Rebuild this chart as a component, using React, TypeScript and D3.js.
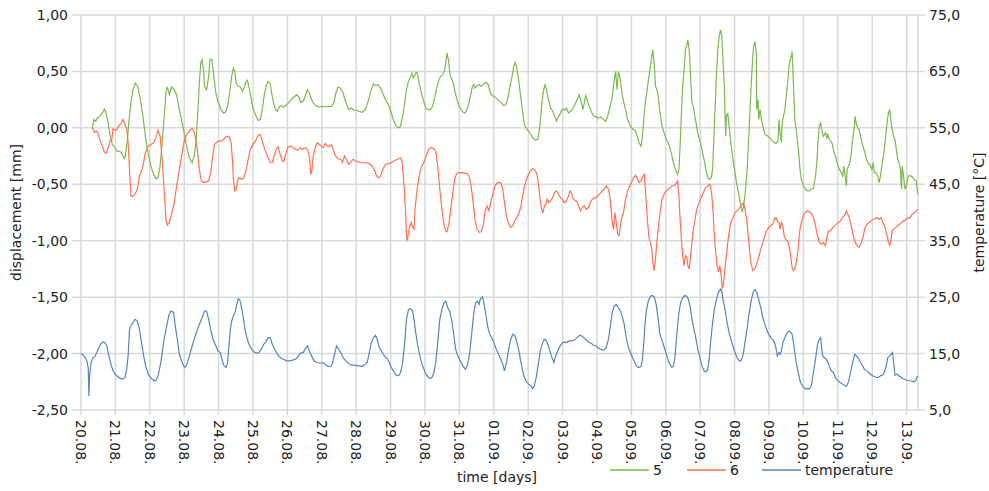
import React from "react";
import * as d3 from "d3";

// day offset from 20.08. (0) , displacement [mm]
const series5: [number, number][] = [
  [0.33,0],[0.38,0.074],[0.43,0.059],[0.47,0.088],[0.52,0.097],[0.56,0.109],[0.62,0.132],[0.68,0.168],[0.73,0.132],[0.79,0.044],[0.85,-0.074],[0.91,-0.147],[0.99,-0.176],[1.04,-0.206],[1.10,-0.206],[1.16,-0.215],[1.20,-0.235],[1.26,-0.274],[1.29,-0.25],[1.35,-0.103],[1.39,0.044],[1.45,0.221],[1.51,0.338],[1.58,0.397],[1.64,0.374],[1.72,0.265],[1.80,0.103],[1.87,-0.074],[1.95,-0.221],[2.03,-0.338],[2.11,-0.412],[2.18,-0.45],[2.24,-0.441],[2.30,-0.338],[2.36,-0.132],[2.42,0.103],[2.47,0.309],[2.51,0.362],[2.57,0.294],[2.63,0.362],[2.71,0.338],[2.78,0.294],[2.84,0.191],[2.92,0.074],[3.00,-0.044],[3.07,-0.162],[3.15,-0.265],[3.23,-0.309],[3.29,-0.25],[3.34,-0.132],[3.40,0.162],[3.44,0.397],[3.48,0.574],[3.52,0.603],[3.56,0.515],[3.59,0.368],[3.65,0.338],[3.71,0.456],[3.75,0.609],[3.81,0.603],[3.86,0.456],[3.92,0.309],[3.98,0.235],
  [4.07,0.162],[4.14,0.132],[4.20,0.138],[4.26,0.191],[4.32,0.309],[4.38,0.456],[4.43,0.529],[4.47,0.5],[4.51,0.397],[4.57,0.368],[4.63,0.362],[4.69,0.324],[4.74,0.353],[4.80,0.412],[4.84,0.421],[4.90,0.338],[4.96,0.235],[5.01,0.162],[5.09,0.103],[5.15,0.065],[5.21,0.074],[5.27,0.162],[5.32,0.279],[5.38,0.368],[5.44,0.412],[5.50,0.391],[5.54,0.309],[5.59,0.235],[5.65,0.162],[5.71,0.147],[5.77,0.191],[5.83,0.197],[5.88,0.185],[5.96,0.197],[6.04,0.226],[6.12,0.256],[6.19,0.274],[6.27,0.294],[6.33,0.274],[6.39,0.226],[6.46,0.235],[6.52,0.285],[6.58,0.338],[6.64,0.309],[6.70,0.25],[6.77,0.215],[6.85,0.191],[6.93,0.185],[7.00,0.191],[7.08,0.185],[7.18,0.191],[7.28,0.191],[7.35,0.221],[7.41,0.309],[7.47,0.362],[7.53,0.353],[7.60,0.324],[7.66,0.265],[7.72,0.206],[7.78,0.162],[7.86,0.176],[7.93,0.156],[8.01,0.156],
  [8.07,0.147],[8.17,0.138],[8.27,0.162],[8.36,0.25],[8.44,0.338],[8.50,0.391],[8.56,0.374],[8.63,0.382],[8.71,0.353],[8.77,0.309],[8.83,0.265],[8.90,0.221],[8.96,0.191],[9.02,0.132],[9.08,0.074],[9.14,0.029],[9.19,0.009],[9.25,0],[9.29,0.015],[9.35,0.103],[9.41,0.221],[9.46,0.338],[9.52,0.412],[9.58,0.456],[9.62,0.485],[9.66,0.441],[9.70,0.462],[9.73,0.485],[9.77,0.491],[9.81,0.426],[9.87,0.338],[9.93,0.265],[9.99,0.206],[10.04,0.168],[10.10,0.162],[10.16,0.162],[10.22,0.191],[10.28,0.265],[10.33,0.338],[10.39,0.412],[10.45,0.456],[10.51,0.471],[10.57,0.515],[10.60,0.574],[10.64,0.662],[10.68,0.603],[10.72,0.485],[10.76,0.441],[10.82,0.397],[10.87,0.324],[10.93,0.25],[10.99,0.191],[11.05,0.162],[11.11,0.138],[11.16,0.132],[11.22,0.162],[11.28,0.221],[11.34,0.309],[11.38,0.368],[11.42,0.382],[11.45,0.353],[11.51,0.374],[11.57,0.382],[11.63,0.368],[11.71,0.391],[11.78,0.403],[11.84,0.382],[11.90,0.309],[11.96,0.285],[12.03,0.274],[12.11,0.25],
  [12.22,0.221],[12.29,0.197],[12.35,0.206],[12.41,0.265],[12.47,0.368],[12.53,0.456],[12.58,0.544],[12.62,0.579],[12.66,0.544],[12.72,0.426],[12.78,0.279],[12.84,0.132],[12.89,0.029],[12.97,-0.015],[13.05,-0.044],[13.13,-0.088],[13.20,-0.109],[13.28,-0.103],[13.34,0.015],[13.38,0.162],[13.42,0.279],[13.45,0.338],[13.49,0.382],[13.53,0.338],[13.59,0.25],[13.65,0.176],[13.71,0.147],[13.76,0.109],[13.82,0.059],[13.86,0.088],[13.92,0.118],[13.98,0.162],[14.03,0.168],[14.07,0.156],[14.11,0.176],[14.17,0.132],[14.23,0.147],[14.29,0.168],[14.34,0.191],[14.40,0.235],[14.44,0.265],[14.48,0.294],[14.52,0.25],[14.56,0.206],[14.59,0.162],[14.63,0.221],[14.67,0.285],[14.71,0.25],[14.75,0.206],[14.81,0.162],[14.86,0.126],[14.92,0.103],[14.98,0.097],[15.04,0.088],[15.10,0.097],[15.15,0.085],[15.21,0.068],[15.25,0.056],[15.31,0.103],[15.37,0.176],[15.43,0.25],[15.46,0.324],[15.50,0.426],[15.54,0.5],[15.58,0.338],[15.62,0.5],[15.66,0.456],[15.70,0.368],[15.73,0.294],[15.77,0.235],[15.83,0.162],[15.89,0.074],[15.95,0.029],[16.00,0],[16.06,-0.015],[16.12,-0.029],[16.18,-0.088],
  [16.22,-0.132],[16.28,-0.162],[16.32,-0.074],[16.36,0.074],[16.39,0.191],[16.43,0.279],[16.47,0.368],[16.51,0.456],[16.55,0.544],[16.59,0.632],[16.62,0.691],[16.66,0.574],[16.70,0.368],[16.74,0.338],[16.78,0.279],[16.82,0.162],[16.86,0.074],[16.89,0.015],[16.95,-0.044],[17.01,-0.103],[17.07,-0.132],[17.13,-0.191],[17.18,-0.25],[17.22,-0.309],[17.28,-0.368],[17.34,-0.412],[17.38,-0.368],[17.41,-0.191],[17.45,0.103],[17.49,0.368],[17.53,0.515],[17.57,0.691],[17.61,0.735],[17.64,0.779],[17.68,0.691],[17.72,0.456],[17.76,0.221],[17.80,0.191],[17.84,0.103],[17.88,0.044],[17.91,-0.015],[17.95,-0.074],[18.01,-0.132],[18.07,-0.221],[18.13,-0.309],[18.18,-0.397],[18.22,-0.441],[18.26,-0.456],[18.32,-0.441],[18.36,-0.368],[18.39,-0.132],[18.43,0.162],[18.47,0.456],[18.51,0.691],[18.55,0.809],[18.59,0.868],[18.63,0.809],[18.66,0.603],[18.70,0.368],[18.74,-0.074],[18.76,0.103],[18.80,0.132],[18.84,0.015],[18.89,-0.132],[18.95,-0.279],[19.01,-0.397],[19.07,-0.515],[19.13,-0.603],[19.18,-0.691],[19.22,-0.75],[19.26,-0.691],[19.30,-0.603],[19.36,-0.397],[19.41,-0.074],[19.47,0.309],[19.51,0.544],[19.55,0.721],[19.59,0.765],[19.63,0.662],[19.64,0.162],[19.68,0.25],[19.70,0.074],[19.74,0.162],[19.78,0.074],[19.84,-0.015],[19.89,-0.059],[19.97,-0.074],[20.05,-0.097],[20.13,-0.126],[20.20,-0.138],[20.26,-0.118],
  [20.29,0.074],[20.32,-0.044],[20.36,-0.132],[20.38,0.044],[20.42,0.103],[20.46,0.162],[20.50,0.279],[20.54,0.397],[20.58,0.544],[20.61,0.603],[20.65,0.632],[20.67,0.676],[20.69,0.544],[20.71,0.368],[20.75,0.074],[20.79,-0.015],[20.83,-0.132],[20.87,-0.25],[20.90,-0.368],[20.94,-0.456],[21.00,-0.515],[21.06,-0.544],[21.12,-0.559],[21.17,-0.559],[21.23,-0.544],[21.29,-0.538],[21.35,-0.426],[21.39,-0.309],[21.42,-0.132],[21.46,0.015],[21.50,0.044],[21.54,-0.029],[21.58,-0.074],[21.64,-0.044],[21.68,-0.088],[21.71,-0.059],[21.75,-0.103],[21.79,-0.118],[21.83,-0.132],[21.87,-0.191],[21.93,-0.25],[21.98,-0.309],[22.04,-0.368],[22.10,-0.397],[22.14,-0.426],[22.18,-0.338],[22.22,-0.456],[22.25,-0.515],[22.27,-0.368],[22.31,-0.338],[22.35,-0.309],[22.39,-0.221],[22.43,-0.103],[22.47,-0.015],[22.50,0.103],[22.54,0.029],[22.58,0],[22.62,-0.015],[22.66,-0.074],[22.70,-0.132],[22.76,-0.191],[22.81,-0.25],[22.87,-0.309],[22.93,-0.324],[22.99,-0.368],[23.03,-0.309],[23.06,-0.397],[23.10,-0.397],[23.16,-0.426],[23.20,-0.485],[23.24,-0.426],[23.28,-0.338],[23.31,-0.279],[23.35,-0.191],[23.39,-0.074],[23.43,0.044],[23.47,0.132],[23.51,0.162],[23.55,0.044],[23.58,-0.015],[23.62,-0.074],[23.66,-0.103],[23.70,-0.191],[23.74,-0.279],[23.78,-0.309],[23.82,-0.368],[23.85,-0.544],[23.87,-0.338],[23.91,-0.426],[23.95,-0.544],[23.99,-0.515],[24.05,-0.426],[24.11,-0.426],[24.16,-0.432],[24.22,-0.456],[24.28,-0.471],[24.32,-0.588]
];

const series6: [number, number][] = [
  [0.33,0],[0.39,-0.038],[0.45,-0.029],[0.50,-0.05],[0.56,-0.118],[0.62,-0.162],[0.68,-0.215],[0.73,-0.226],[0.79,-0.176],[0.85,-0.109],[0.89,-0.118],[0.93,-0.009],[0.99,-0.021],[1.04,-0.015],[1.10,0.021],[1.16,0.038],[1.22,0.074],[1.28,0.029],[1.33,-0.015],[1.37,-0.132],[1.41,-0.368],[1.45,-0.603],[1.51,-0.609],[1.57,-0.588],[1.64,-0.544],[1.70,-0.426],[1.76,-0.382],[1.82,-0.309],[1.87,-0.221],[1.95,-0.162],[2.03,-0.147],[2.11,-0.132],[2.18,-0.088],[2.24,-0.021],[2.30,-0.074],[2.36,-0.279],[2.42,-0.574],[2.47,-0.809],[2.51,-0.862],[2.57,-0.838],[2.63,-0.765],[2.71,-0.662],[2.78,-0.515],[2.86,-0.368],[2.94,-0.221],[3.01,-0.103],[3.09,-0.05],[3.17,-0.021],[3.23,-0.003],[3.29,-0.038],[3.32,-0.074],[3.38,-0.191],[3.44,-0.368],[3.50,-0.471],[3.56,-0.485],[3.63,-0.479],[3.71,-0.471],[3.77,-0.397],[3.83,-0.25],[3.88,-0.147],[3.98,-0.118],
  [4.07,-0.118],[4.14,-0.103],[4.22,-0.079],[4.30,-0.074],[4.36,-0.118],[4.40,-0.279],[4.43,-0.456],[4.47,-0.559],[4.51,-0.544],[4.55,-0.471],[4.59,-0.441],[4.67,-0.456],[4.74,-0.441],[4.80,-0.368],[4.86,-0.279],[4.92,-0.191],[5.00,-0.147],[5.07,-0.118],[5.15,-0.068],[5.21,-0.059],[5.27,-0.118],[5.34,-0.191],[5.42,-0.25],[5.50,-0.309],[5.56,-0.309],[5.61,-0.25],[5.67,-0.191],[5.73,-0.168],[5.79,-0.235],[5.85,-0.294],[5.90,-0.294],[5.96,-0.221],[6.02,-0.168],[6.10,-0.162],[6.17,-0.176],[6.23,-0.191],[6.31,-0.197],[6.37,-0.176],[6.43,-0.191],[6.50,-0.176],[6.58,-0.191],[6.64,-0.25],[6.68,-0.412],[6.71,-0.382],[6.75,-0.25],[6.81,-0.168],[6.87,-0.132],[6.93,-0.147],[6.99,-0.162],[7.04,-0.176],[7.10,-0.138],[7.15,-0.156],[7.22,-0.168],[7.28,-0.147],[7.33,-0.191],[7.39,-0.244],[7.47,-0.274],[7.55,-0.279],[7.60,-0.309],[7.66,-0.25],[7.72,-0.285],[7.78,-0.324],[7.84,-0.303],[7.91,-0.279],[7.99,-0.294],
  [8.07,-0.303],[8.17,-0.309],[8.27,-0.309],[8.36,-0.315],[8.46,-0.338],[8.54,-0.382],[8.59,-0.426],[8.65,-0.441],[8.71,-0.426],[8.77,-0.368],[8.85,-0.324],[8.94,-0.315],[9.02,-0.309],[9.10,-0.294],[9.15,-0.285],[9.23,-0.274],[9.29,-0.265],[9.33,-0.294],[9.37,-0.426],[9.41,-0.603],[9.44,-0.779],[9.46,-0.956],[9.48,-1.0],[9.52,-0.926],[9.56,-0.868],[9.60,-0.838],[9.64,-0.882],[9.68,-0.897],[9.71,-0.721],[9.77,-0.544],[9.83,-0.426],[9.89,-0.353],[9.95,-0.315],[10.00,-0.279],[10.06,-0.221],[10.12,-0.185],[10.18,-0.176],[10.26,-0.185],[10.31,-0.206],[10.37,-0.338],[10.43,-0.544],[10.49,-0.721],[10.55,-0.853],[10.60,-0.912],[10.64,-0.921],[10.70,-0.838],[10.76,-0.691],[10.82,-0.544],[10.87,-0.441],[10.93,-0.403],[11.01,-0.397],[11.09,-0.397],[11.16,-0.403],[11.22,-0.403],[11.28,-0.426],[11.34,-0.515],[11.40,-0.662],[11.45,-0.809],[11.51,-0.897],[11.57,-0.926],[11.63,-0.921],[11.69,-0.868],[11.74,-0.75],[11.80,-0.691],[11.86,-0.735],[11.92,-0.647],[11.98,-0.574],[12.03,-0.515],[12.11,-0.485],
  [12.20,-0.485],[12.26,-0.544],[12.31,-0.662],[12.37,-0.779],[12.43,-0.853],[12.49,-0.882],[12.55,-0.868],[12.61,-0.824],[12.66,-0.794],[12.72,-0.765],[12.78,-0.706],[12.84,-0.603],[12.89,-0.515],[12.95,-0.456],[13.01,-0.412],[13.07,-0.382],[13.13,-0.362],[13.18,-0.368],[13.24,-0.397],[13.28,-0.456],[13.32,-0.559],[13.36,-0.662],[13.40,-0.735],[13.43,-0.75],[13.47,-0.691],[13.51,-0.676],[13.55,-0.632],[13.59,-0.662],[13.65,-0.647],[13.71,-0.618],[13.76,-0.574],[13.82,-0.559],[13.88,-0.588],[13.94,-0.618],[14.00,-0.638],[14.05,-0.662],[14.11,-0.647],[14.17,-0.603],[14.21,-0.559],[14.25,-0.574],[14.29,-0.618],[14.34,-0.638],[14.40,-0.647],[14.46,-0.691],[14.52,-0.735],[14.57,-0.706],[14.63,-0.691],[14.69,-0.721],[14.75,-0.706],[14.81,-0.662],[14.86,-0.632],[14.92,-0.618],[14.98,-0.618],[15.04,-0.597],[15.10,-0.579],[15.15,-0.559],[15.21,-0.544],[15.27,-0.515],[15.33,-0.544],[15.37,-0.603],[15.41,-0.721],[15.44,-0.838],[15.48,-0.897],[15.52,-0.75],[15.56,-0.838],[15.60,-0.941],[15.64,-0.956],[15.68,-0.868],[15.71,-0.809],[15.77,-0.75],[15.83,-0.632],[15.89,-0.559],[15.95,-0.515],[16.00,-0.485],[16.06,-0.441],[16.12,-0.421],[16.18,-0.456],
  [16.22,-0.485],[16.28,-0.471],[16.34,-0.426],[16.38,-0.412],[16.39,-0.485],[16.43,-0.662],[16.47,-0.838],[16.51,-0.971],[16.55,-1.015],[16.59,-1.074],[16.62,-1.191],[16.66,-1.265],[16.70,-1.162],[16.74,-1.015],[16.78,-0.897],[16.82,-0.779],[16.86,-0.691],[16.89,-0.632],[16.95,-0.588],[17.01,-0.559],[17.07,-0.544],[17.13,-0.529],[17.18,-0.515],[17.24,-0.515],[17.28,-0.5],[17.34,-0.471],[17.38,-0.603],[17.41,-0.779],[17.45,-0.985],[17.49,-1.132],[17.53,-1.221],[17.57,-1.132],[17.61,-1.147],[17.64,-1.221],[17.68,-1.25],[17.72,-1.132],[17.76,-1.015],[17.80,-0.897],[17.84,-0.838],[17.88,-0.75],[17.93,-0.691],[17.99,-0.647],[18.05,-0.603],[18.11,-0.559],[18.16,-0.529],[18.22,-0.515],[18.26,-0.5],[18.30,-0.515],[18.34,-0.603],[18.38,-0.779],[18.41,-0.956],[18.45,-1.103],[18.49,-1.221],[18.53,-1.279],[18.57,-1.221],[18.61,-1.309],[18.64,-1.426],[18.68,-1.368],[18.72,-1.25],[18.76,-1.132],[18.80,-1.015],[18.84,-0.926],[18.89,-0.838],[18.95,-0.794],[19.01,-0.75],[19.07,-0.735],[19.13,-0.715],[19.18,-0.691],[19.22,-0.676],[19.26,-0.662],[19.30,-0.721],[19.36,-0.838],[19.41,-1.015],[19.47,-1.191],[19.53,-1.265],[19.59,-1.25],[19.64,-1.206],[19.70,-1.147],[19.76,-1.074],[19.82,-1.015],[19.88,-0.956],[19.93,-0.912],[19.99,-0.882],[20.05,-0.868],[20.11,-0.853],[20.16,-0.809],[20.20,-0.794],[20.26,-0.838],
  [20.29,-0.838],[20.32,-0.897],[20.36,-0.838],[20.40,-0.868],[20.44,-0.956],[20.48,-0.985],[20.52,-1.0],[20.56,-1.015],[20.60,-1.074],[20.64,-1.162],[20.67,-1.235],[20.71,-1.265],[20.75,-1.25],[20.79,-1.191],[20.83,-1.118],[20.86,-1.015],[20.90,-0.897],[20.94,-0.838],[21.00,-0.779],[21.06,-0.75],[21.12,-0.735],[21.17,-0.744],[21.23,-0.756],[21.29,-0.794],[21.35,-0.868],[21.41,-0.956],[21.46,-1.015],[21.52,-1.029],[21.58,-1.015],[21.64,-1.044],[21.69,-0.956],[21.73,-0.912],[21.79,-0.912],[21.85,-0.882],[21.91,-0.868],[21.96,-0.853],[22.02,-0.838],[22.08,-0.824],[22.14,-0.794],[22.20,-0.774],[22.25,-0.735],[22.29,-0.765],[22.33,-0.794],[22.39,-0.868],[22.45,-0.956],[22.50,-1.015],[22.56,-1.044],[22.62,-1.059],[22.68,-1.015],[22.74,-0.956],[22.79,-0.882],[22.85,-0.853],[22.91,-0.838],[22.97,-0.824],[23.03,-0.809],[23.08,-0.803],[23.14,-0.794],[23.20,-0.809],[23.26,-0.794],[23.31,-0.838],[23.37,-0.882],[23.43,-0.956],[23.47,-1.015],[23.51,-1.044],[23.55,-0.985],[23.58,-0.912],[23.62,-0.897],[23.68,-0.882],[23.74,-0.868],[23.80,-0.853],[23.85,-0.838],[23.91,-0.824],[23.97,-0.815],[24.03,-0.794],[24.09,-0.803],[24.14,-0.774],[24.20,-0.756],[24.26,-0.744],[24.32,-0.721]
];

// day offset, temperature [°C]
const temperature: [number, number][] = [
  [0,15.0],[0.06,14.76],[0.12,14.29],[0.17,13.71],[0.21,12.53],[0.23,7.5],[0.25,11.06],[0.29,13.35],[0.35,14.24],[0.41,14.53],[0.46,15.18],[0.52,16.06],[0.58,16.76],[0.64,17.06],[0.70,16.94],[0.75,16.35],[0.81,14.59],[0.87,13.12],[0.93,11.94],[0.99,11.35],[1.06,10.94],[1.14,10.59],[1.22,10.47],[1.28,10.76],[1.33,12.24],[1.37,14.59],[1.41,19.29],[1.45,19.88],[1.51,20.47],[1.57,21.06],[1.64,20.76],[1.70,19.29],[1.76,16.94],[1.82,14.59],[1.89,12.53],[1.97,11.18],[2.05,10.59],[2.13,10.18],[2.18,10.29],[2.24,11.06],[2.32,13.41],[2.40,16.94],[2.47,19.29],[2.55,21.65],[2.61,22.53],[2.69,22.35],[2.74,19.88],[2.80,17.53],[2.86,14.88],[2.94,13.41],[3.01,12.53],[3.07,12.94],[3.15,14.59],[3.23,16.35],[3.32,18.12],[3.42,19.88],[3.52,21.35],[3.59,22.53],[3.65,22.53],[3.71,21.06],[3.77,19.29],[3.83,17.65],[3.90,16.65],[3.98,15.47],
  [4.05,15.18],[4.11,13.71],[4.16,12.82],[4.22,12.53],[4.26,13.41],[4.30,16.35],[4.34,19.29],[4.38,20.76],[4.43,21.65],[4.49,22.53],[4.53,23.71],[4.57,24.71],[4.61,24.59],[4.65,23.71],[4.71,21.65],[4.76,19.59],[4.82,17.82],[4.88,16.65],[4.96,15.76],[5.03,15.29],[5.11,15.06],[5.17,15.18],[5.23,15.65],[5.31,16.65],[5.36,16.94],[5.44,17.82],[5.50,17.82],[5.56,16.65],[5.63,15.76],[5.71,14.88],[5.79,14.29],[5.88,14.0],[5.98,13.71],[6.08,13.71],[6.17,13.88],[6.27,14.12],[6.35,14.88],[6.41,15.18],[6.46,15.18],[6.52,15.88],[6.58,16.35],[6.64,15.47],[6.70,14.59],[6.77,13.71],[6.85,13.41],[6.95,13.29],[7.02,13.41],[7.10,13.12],[7.18,12.71],[7.26,12.71],[7.31,13.29],[7.37,14.88],[7.43,16.35],[7.49,15.76],[7.55,15.18],[7.62,14.29],[7.70,13.71],[7.78,13.24],[7.86,12.94],[7.95,12.94],[8.04,12.82],
  [8.07,12.82],[8.17,12.71],[8.27,13.12],[8.32,13.41],[8.38,15.18],[8.44,16.94],[8.50,17.82],[8.56,18.24],[8.61,17.53],[8.67,16.06],[8.73,15.47],[8.79,14.88],[8.85,14.29],[8.90,14.12],[8.96,13.41],[9.02,12.53],[9.08,11.94],[9.14,11.35],[9.19,11.06],[9.25,11.18],[9.29,11.65],[9.35,13.41],[9.41,16.94],[9.46,21.06],[9.52,22.82],[9.58,22.94],[9.64,22.53],[9.68,21.06],[9.73,18.71],[9.79,16.35],[9.85,14.59],[9.91,13.12],[9.97,12.24],[10.02,11.35],[10.08,10.94],[10.14,10.59],[10.20,10.76],[10.26,11.65],[10.31,13.41],[10.37,16.94],[10.43,21.06],[10.49,22.82],[10.55,24.0],[10.60,24.29],[10.66,23.12],[10.72,22.53],[10.78,20.76],[10.84,18.12],[10.89,15.76],[10.95,14.59],[11.01,13.88],[11.07,13.12],[11.13,12.53],[11.18,12.24],[11.24,13.12],[11.30,15.18],[11.36,18.71],[11.42,22.24],[11.47,24.0],[11.53,24.29],[11.57,23.71],[11.61,24.71],[11.67,25.06],[11.71,24.0],[11.76,22.24],[11.82,19.88],[11.88,18.41],[11.94,17.82],[12.00,16.94],[12.07,15.76],
  [12.14,14.88],[12.20,14.0],[12.26,13.12],[12.31,11.94],[12.37,13.41],[12.43,15.76],[12.49,17.53],[12.55,18.41],[12.61,18.24],[12.66,17.24],[12.72,15.76],[12.78,13.71],[12.84,11.94],[12.89,10.76],[12.95,10.0],[13.01,9.59],[13.07,9.29],[13.13,8.82],[13.18,9.29],[13.24,11.06],[13.30,13.41],[13.36,15.76],[13.42,16.94],[13.47,17.53],[13.51,17.41],[13.57,16.65],[13.63,15.47],[13.67,14.59],[13.71,14.0],[13.75,13.41],[13.78,14.29],[13.84,15.18],[13.90,16.06],[13.96,16.65],[14.03,17.06],[14.11,16.94],[14.19,17.24],[14.27,17.24],[14.34,17.41],[14.42,17.82],[14.50,18.24],[14.56,18.12],[14.61,17.82],[14.67,17.53],[14.75,17.06],[14.83,16.82],[14.90,16.47],[14.98,16.35],[15.06,15.88],[15.14,15.65],[15.21,15.65],[15.27,16.06],[15.33,17.53],[15.39,19.88],[15.44,22.24],[15.50,23.41],[15.56,23.71],[15.62,23.12],[15.68,22.53],[15.73,21.65],[15.79,20.18],[15.85,17.82],[15.91,16.06],[15.97,15.18],[16.03,14.29],[16.08,13.71],[16.14,12.82],[16.20,12.53],
  [16.28,12.71],[16.32,14.0],[16.36,16.94],[16.39,19.88],[16.43,22.53],[16.49,24.29],[16.55,25.18],[16.61,25.29],[16.66,25.06],[16.72,23.71],[16.78,21.06],[16.82,18.71],[16.86,17.82],[16.91,16.94],[16.97,15.76],[17.03,14.59],[17.07,13.71],[17.13,12.94],[17.18,12.53],[17.22,12.82],[17.26,14.0],[17.30,16.94],[17.34,19.88],[17.38,22.24],[17.43,24.0],[17.49,24.88],[17.55,25.29],[17.61,25.18],[17.66,24.59],[17.72,22.82],[17.76,21.06],[17.82,19.29],[17.88,17.53],[17.93,15.76],[17.99,14.29],[18.05,12.82],[18.11,11.94],[18.16,11.76],[18.22,12.24],[18.26,14.0],[18.30,16.94],[18.36,20.47],[18.41,22.82],[18.47,24.59],[18.53,25.88],[18.59,26.47],[18.63,26.06],[18.66,24.59],[18.72,22.82],[18.78,20.47],[18.84,18.71],[18.89,17.53],[18.95,16.35],[19.01,15.18],[19.07,14.29],[19.13,13.71],[19.18,13.71],[19.24,14.59],[19.30,16.94],[19.36,19.29],[19.41,21.65],[19.47,24.0],[19.53,25.76],[19.59,26.35],[19.64,25.88],[19.70,24.59],[19.76,23.12],[19.82,21.35],[19.88,20.18],[19.93,19.29],[19.99,18.41],[20.05,17.82],[20.11,17.41],[20.16,16.94],[20.20,16.06],[20.24,14.59],
  [20.29,15.18],[20.32,14.88],[20.36,15.47],[20.40,16.94],[20.46,17.82],[20.52,18.59],[20.58,19.0],[20.63,18.82],[20.67,18.41],[20.71,16.94],[20.75,15.18],[20.79,13.41],[20.83,12.24],[20.87,11.06],[20.90,10.18],[20.94,9.59],[21.00,9.0],[21.06,8.71],[21.12,8.82],[21.17,8.71],[21.23,9.29],[21.29,11.65],[21.35,14.0],[21.39,15.76],[21.42,16.94],[21.46,17.53],[21.50,17.82],[21.52,16.35],[21.56,14.59],[21.60,14.29],[21.64,14.12],[21.69,13.71],[21.75,12.82],[21.81,11.94],[21.87,11.65],[21.93,10.76],[21.98,10.35],[22.04,10.0],[22.10,9.76],[22.18,9.41],[22.25,9.18],[22.31,10.0],[22.37,11.65],[22.43,13.41],[22.49,14.88],[22.54,14.59],[22.60,14.12],[22.66,13.41],[22.72,12.82],[22.77,12.24],[22.83,11.94],[22.89,11.65],[22.95,11.35],[23.01,11.06],[23.06,10.94],[23.12,10.76],[23.18,10.76],[23.24,11.06],[23.30,11.18],[23.35,11.65],[23.41,12.82],[23.45,14.29],[23.51,14.59],[23.55,14.88],[23.59,15.18],[23.62,13.41],[23.66,11.18],[23.72,11.35],[23.78,11.06],[23.84,10.76],[23.89,10.59],[23.97,10.35],[24.05,10.18],[24.12,10.18],[24.20,10.0],[24.26,10.18],[24.32,11.06]
];

const dayLabels = ["20.08.","21.08.","22.08.","23.08.","24.08.","25.08.","26.08.","27.08.","28.08.","29.08.","30.08.","31.08.","01.09.","02.09.","03.09.","04.09.","05.09.","06.09.","07.09.","08.09.","09.09.","10.09.","11.09.","12.09.","13.09."];
const leftTicks = [1, 0.5, 0, -0.5, -1, -1.5, -2, -2.5];
const rightTicks = [75, 65, 55, 45, 35, 25, 15, 5];
const legendItems = [
  { label: "5", color: "#7bb84f" },
  { label: "6", color: "#ff7052" },
  { label: "temperature", color: "#5585bd" },
];

const W = 989, H = 491;
const PL = 81, PR = 918, PT = 15, PB = 410;
const FONT = "'DejaVu Sans', Verdana, sans-serif";

export default function App() {
  const x = d3.scaleLinear().domain([0, 24.33]).range([PL, PR]);
  const yL = d3.scaleLinear().domain([-2.5, 1]).range([PB, PT]);
  const yR = d3.scaleLinear().domain([5, 75]).range([PB, PT]);
  const lineL = d3.line<[number, number]>().x(d => x(d[0])).y(d => yL(d[1]));
  const lineR = d3.line<[number, number]>().x(d => x(d[0])).y(d => yR(d[1]));
  const fmtL = (v: number) => d3.format(".2f")(v).replace(".", ",").replace("−", "-");
  const fmtR = (v: number) => d3.format(".1f")(v).replace(".", ",");
  const grid = "#d9d9d9";
  const legendX = [610, 687, 762];
  return (
    <svg width={W} height={H} style={{ position: "absolute", left: 0, top: 0, background: "#fff" }} fontFamily={FONT}>
      <rect x={0} y={0} width={W} height={H} fill="#fff" />
      {leftTicks.map(t => (
        <line key={"h" + t} x1={PL - 9} x2={PR + 7} y1={yL(t)} y2={yL(t)} stroke={grid} strokeWidth={1.5} />
      ))}
      {dayLabels.map((_, i) => (
        <line key={"v" + i} x1={x(i)} x2={x(i)} y1={PT} y2={PB + 5} stroke={grid} strokeWidth={1.5} />
      ))}
      <line x1={PR} x2={PR} y1={PT} y2={PB} stroke={grid} strokeWidth={1.5} />
      <path d={lineL(series5) || ""} fill="none" stroke="#7bb84f" strokeWidth={1.2} />
      <path d={lineL(series6) || ""} fill="none" stroke="#ff7052" strokeWidth={1.2} />
      <path d={lineR(temperature) || ""} fill="none" stroke="#5585bd" strokeWidth={1.2} />
      {leftTicks.map(t => (
        <text key={"lt" + t} x={68} y={yL(t)} textAnchor="end" dominantBaseline="central" fontSize={14} fill="#222">{fmtL(t)}</text>
      ))}
      {rightTicks.map(t => (
        <text key={"rt" + t} x={929} y={yR(t)} textAnchor="start" dominantBaseline="central" fontSize={14} fill="#222">{fmtR(t)}</text>
      ))}
      {dayLabels.map((lab, i) => (
        <text key={"dl" + i} transform={`translate(${x(i)},420) rotate(90)`} textAnchor="start" dominantBaseline="central" fontSize={14} fill="#222">{lab}</text>
      ))}
      <text transform={`translate(16,${(PT + PB) / 2}) rotate(-90)`} textAnchor="middle" dominantBaseline="central" fontSize={14} fill="#222">displacement [mm]</text>
      <text transform={`translate(979,${(PT + PB) / 2}) rotate(-90)`} textAnchor="middle" dominantBaseline="central" fontSize={14} fill="#222">temperature [°C]</text>
      <text x={497} y={482} textAnchor="middle" fontSize={14} fill="#222">time [days]</text>
      {legendItems.map((it, i) => (
        <g key={"lg" + i}>
          <line x1={legendX[i]} x2={legendX[i] + 39} y1={470} y2={470} stroke={it.color} strokeWidth={1.5} />
          <text x={legendX[i] + 43} y={475} fontSize={14} fill="#222">{it.label}</text>
        </g>
      ))}
    </svg>
  );
}
